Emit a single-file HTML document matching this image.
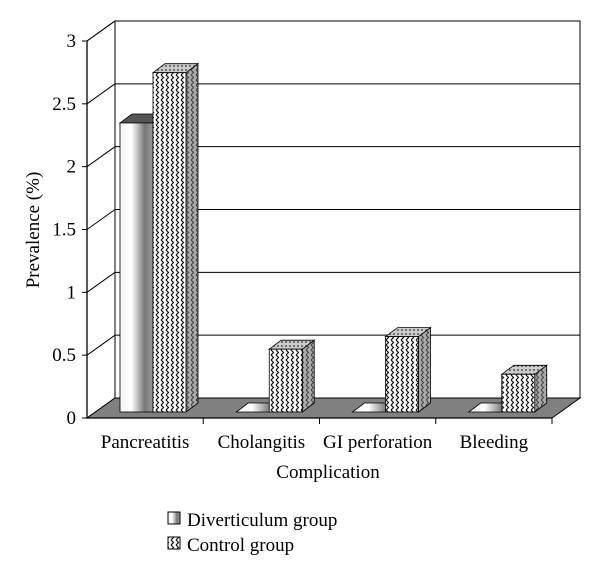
<!DOCTYPE html>
<html><head><meta charset="utf-8"><style>
body{margin:0;background:#fff}
svg{display:block}
text{font-family:"Liberation Serif",serif}
</style></head><body>
<svg id="c" width="600" height="577" viewBox="0 0 600 577">
<defs>
<pattern id="zig" width="5" height="5" patternUnits="userSpaceOnUse">
<rect width="5" height="5" fill="#fff"/>
<path d="M1,0 L3.5,2.5 L1,5" fill="none" stroke="#111" stroke-width="1.2"/>
</pattern>
<pattern id="zigSide" width="5" height="5" patternUnits="userSpaceOnUse">
<rect width="5" height="5" fill="#aaa"/>
<path d="M1,0 L3.5,2.5 L1,5" fill="none" stroke="#444" stroke-width="1.1"/>
</pattern>
<pattern id="dots" width="4" height="4" patternUnits="userSpaceOnUse">
<rect width="4" height="4" fill="#ccc"/>
<circle cx="2" cy="2" r="1" fill="#555"/>
</pattern>
<linearGradient id="cyl" x1="0" x2="1" y1="0" y2="0">
<stop offset="0" stop-color="#f4f4f4"/><stop offset="0.35" stop-color="#ffffff"/><stop offset="0.75" stop-color="#777"/><stop offset="1" stop-color="#999"/>
</linearGradient>
</defs>
<g id="g"></g>
</svg>
<script>
const categories=["Pancreatitis","Cholangitis","GI perforation","Bleeding"];
const diverticulum=[2.3,0,0,0];
const control=[2.7,0.5,0.6,0.3];
const yTicks=[0,0.5,1,1.5,2,2.5,3];
const yTickLabels=["0","0.5","1","1.5","2","2.5","3"];

const NS="http://www.w3.org/2000/svg";
const g=document.getElementById('g');
function el(t,a,txt){const e=document.createElementNS(NS,t);for(const k in a)e.setAttribute(k,a[k]);if(txt!==undefined)e.textContent=txt;g.appendChild(e);return e;}
const X0=87,X1=552,Y0=418,Y3=41,DX=28,DY=-20;
const y=v=>Y0-(Y0-Y3)*v/3;
const cw=(X1-X0)/categories.length;

let e=el('rect',{x:X0+DX,y:y(3)+DY,width:X1-X0,height:Y0-y(3),fill:'#fff',stroke:'#000','stroke-width':1});

e=el('polygon',{points:`${X0},${Y0} ${X0},${y(3)} ${X0+DX},${y(3)+DY} ${X0+DX},${Y0+DY}`,fill:'#fff',stroke:'#000'});

yTicks.forEach((t,i)=>{
  if(t>0){e=el('line',{x1:X0+DX,x2:X1+DX,y1:y(t)+DY,y2:y(t)+DY,stroke:'#000','stroke-width':1});
  
  e=el('line',{x1:X0,x2:X0+DX,y1:y(t),y2:y(t)+DY,stroke:'#000'});
  }
  e=el('line',{x1:X0-5,x2:X0,y1:y(t),y2:y(t),stroke:'#000'});
  
  e=el('text',{x:X0-11,y:y(t)+6,'text-anchor':'end','font-size':19},yTickLabels[i]);
  
});
e=el('polygon',{points:`${X0},${Y0} ${X1},${Y0} ${X1+DX},${Y0+DY} ${X0+DX},${Y0+DY}`,fill:'#808080',stroke:'#000'});

const BD=6, bw=33, bdx=12, bdy=-9;
const by=v=>y(v)-BD;
function bar(x,v,type,name){
  const base=Y0-BD, top=by(v);
  const grp=document.createElementNS(NS,'g');
  
  g.appendChild(grp);
  const mk=(t,a)=>{const q=document.createElementNS(NS,t);for(const k in a)q.setAttribute(k,a[k]);grp.appendChild(q);return q;};
  if(v<=0){
    mk('polygon',{points:`${x},${base} ${x+bw},${base} ${x+bw+bdx},${base+bdy} ${x+bdx},${base+bdy}`,fill:type==='d'?'url(#cyl)':'#ddd',stroke:'#000','stroke-width':0.8});
    return;
  }
  mk('polygon',{points:`${x+bw},${base} ${x+bw+bdx},${base+bdy} ${x+bw+bdx},${top+bdy} ${x+bw},${top}`,fill:type==='d'?'#666':'url(#zigSide)',stroke:'#000','stroke-width':0.8});
  mk('polygon',{points:`${x},${top} ${x+bw},${top} ${x+bw+bdx},${top+bdy} ${x+bdx},${top+bdy}`,fill:type==='d'?'#555':'url(#dots)',stroke:'#000','stroke-width':0.8});
  mk('rect',{x:x,y:top,width:bw,height:base-top,fill:type==='d'?'url(#cyl)':'url(#zig)',stroke:'#000','stroke-width':0.8});
}
categories.forEach((c,i)=>{
  const s=X0+cw*i;
  bar(s+33,diverticulum[i],'d','bar-diverticulum-'+i);
  bar(s+66,control[i],'c','bar-control-'+i);
});
e=el('line',{x1:X0,x2:X0,y1:y(3),y2:Y0,stroke:'#000','stroke-width':1.3});

e=el('line',{x1:X0,x2:X1,y1:Y0,y2:Y0,stroke:'#000','stroke-width':1.3});

categories.forEach((c,i)=>{
  e=el('line',{x1:X0+cw*(i+1),x2:X0+cw*(i+1),y1:Y0,y2:Y0+6,stroke:'#000'});
  
  e=el('text',{x:X0+cw*(i+0.5),y:448,'text-anchor':'middle','font-size':19},c);
  
});
e=el('text',{x:328,y:478,'text-anchor':'middle','font-size':19},'Complication');

e=el('text',{x:0,y:0,'text-anchor':'middle','font-size':19,transform:'translate(39,230) rotate(-90)'},'Prevalence (%)');

e=el('rect',{x:168,y:512,width:12,height:12,fill:'url(#cyl)',stroke:'#000'});

e=el('text',{x:187,y:526,'font-size':19},'Diverticulum group');

e=el('rect',{x:168,y:537,width:12,height:12,fill:'url(#zig)',stroke:'#000'});

e=el('text',{x:187,y:551,'font-size':19},'Control group');

</script>
</body></html>
